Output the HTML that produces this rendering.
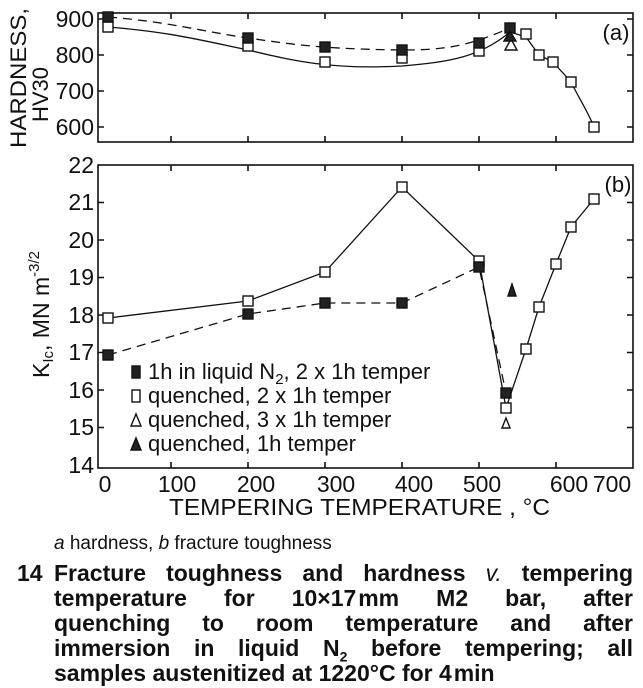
<!DOCTYPE html>
<html><head><meta charset="utf-8"><style>
html,body{margin:0;padding:0;background:#fff;}
svg{display:block;position:absolute;left:0;top:0;}
text{font-family:"Liberation Sans",sans-serif;fill:#111;}
.cap{position:absolute;left:54px;width:579px;font-family:"Liberation Sans",sans-serif;font-weight:bold;font-size:23px;line-height:25px;color:#111;text-align:justify;text-align-last:justify;white-space:nowrap;}
.cap span.j{display:block;text-align:justify;text-align-last:justify;white-space:normal;}
</style></head><body>
<svg width="643" height="688" viewBox="0 0 643 688" xmlns="http://www.w3.org/2000/svg">
<g stroke="#111" fill="none" stroke-width="1.6">
<rect x="98" y="13" width="535" height="129"/>
<path d="M171 13v6M248 13v6M325 13v6M402 13v6M479 13v6M556 13v6M171 142v-6M248 142v-6M325 142v-6M402 142v-6M479 142v-6M556 142v-6"/>
<path d="M98 19h6M98 55h6M98 91h6M98 127h6M633 19h-6M633 55h-6M633 91h-6M633 127h-6"/>
<rect x="98" y="165" width="535" height="303"/>
<path d="M171 165v6M248 165v6M325 165v6M402 165v6M479 165v6M556 165v6M171 468v-6M248 468v-6M325 468v-6M402 468v-6M479 468v-6M556 468v-6"/>
<path d="M98 202.5h6M98 240h6M98 277.5h6M98 315h6M98 352.5h6M98 390h6M98 427.5h6M633 202.5h-6M633 240h-6M633 277.5h-6M633 315h-6M633 352.5h-6M633 390h-6M633 427.5h-6"/>
</g>
<!-- top curves -->
<g fill="none" stroke="#111" stroke-width="1.3">
<path d="M108 17 C170 22 200 31 248 38 C290 44 320 49 402 50 C450 50 470 45 510 28" stroke-dasharray="9,6"/>
<path d="M108 27 C170 32 200 40 248 50 C290 60 330 70 402 66 C450 62 480 57 510 32 L526 37 L539 55 L553 62 C560 70 566 76 571 82 C580 100 588 112 594 127"/>
</g>
<g stroke="#111" stroke-width="1.4">
<g fill="#fff">
<rect x="103" y="22" width="10" height="10"/><rect x="243" y="41" width="10" height="10"/><rect x="320" y="57" width="10" height="10"/><rect x="397" y="53" width="10" height="10"/><rect x="474" y="46" width="10" height="10"/><rect x="521" y="29" width="10" height="10"/><rect x="534" y="50" width="10" height="10"/><rect x="548" y="57" width="10" height="10"/><rect x="566" y="77" width="10" height="10"/><rect x="589" y="122" width="10" height="10"/>
<path d="M505 50 L511 39 L517 50 Z"/>
</g>
<g fill="#222">
<rect x="103" y="12" width="10" height="10"/><rect x="243" y="33" width="10" height="10"/><rect x="320" y="42" width="10" height="10"/><rect x="397" y="45" width="10" height="10"/><rect x="474" y="38" width="10" height="10"/><rect x="505" y="23" width="10" height="10"/><path d="M504 41 L510 31 L516 41 Z"/>
</g>
</g>
<!-- bottom lines -->
<g fill="none" stroke="#111" stroke-width="1.3">
<polyline points="108,318 248,301 325,272 402,187 479,261 506,408 526,349 539,307 556,264 571,227 594,199"/>
<polyline points="108,355 248,314 325,303 402,303 479,267 506,393" stroke-dasharray="9,6"/>
</g>
<g stroke="#111" stroke-width="1.4">
<g fill="#fff">
<rect x="103" y="313" width="10" height="10"/><rect x="243" y="296" width="10" height="10"/><rect x="320" y="267" width="10" height="10"/><rect x="397" y="182" width="10" height="10"/><rect x="474" y="256" width="10" height="10"/><rect x="501" y="403" width="10" height="10"/><rect x="521" y="344" width="10" height="10"/><rect x="534" y="302" width="10" height="10"/><rect x="551" y="259" width="10" height="10"/><rect x="566" y="222" width="10" height="10"/><rect x="589" y="194" width="10" height="10"/>
<path d="M502 428 L506 418 L510 428 Z"/>
</g>
<g fill="#222">
<rect x="103" y="350" width="10" height="10"/><rect x="243" y="309" width="10" height="10"/><rect x="320" y="298" width="10" height="10"/><rect x="397" y="298" width="10" height="10"/><rect x="474" y="262" width="10" height="10"/><rect x="501" y="388" width="10" height="10"/>
<path d="M508 296 L512 284 L516 296 Z"/>
</g>
<rect x="132" y="366" width="8" height="12" fill="#222"/>
<rect x="132" y="390" width="8" height="12" fill="#fff"/>
<path d="M131 426 L136 414 L141 426 Z" fill="#fff"/>
<path d="M131 450 L136 438 L141 450 Z" fill="#222"/>
</g>
<g font-size="22">
<text x="148" y="379">1h in liquid N<tspan font-size="15" dy="5">2</tspan><tspan dy="-5">, 2 x 1h temper</tspan></text>
<text x="148" y="403">quenched, 2 x 1h temper</text>
<text x="148" y="427">quenched, 3 x 1h temper</text>
<text x="148" y="451">quenched,  1h temper</text>
</g>
<g font-size="23" text-anchor="end">
<text x="94" y="27">900</text><text x="94" y="63">800</text><text x="94" y="99">700</text><text x="94" y="135">600</text>
<text x="94" y="173">22</text><text x="94" y="210">21</text><text x="94" y="248">20</text><text x="94" y="285">19</text><text x="94" y="323">18</text><text x="94" y="360">17</text><text x="94" y="398">16</text><text x="94" y="435">15</text><text x="94" y="473">14</text>
</g>
<g font-size="23" text-anchor="middle">
<text x="105" y="492">0</text><text x="177" y="492">100</text><text x="256" y="492">200</text><text x="336" y="492">300</text><text x="414" y="492">400</text><text x="482" y="492">500</text><text x="569" y="492">600</text><text x="612" y="492">700</text>
</g>
<text x="169" y="515" font-size="23" textLength="381" lengthAdjust="spacingAndGlyphs">TEMPERING TEMPERATURE , °C</text>
<text x="616" y="40" font-size="22" text-anchor="middle">(a)</text>
<text x="618" y="192" font-size="22" text-anchor="middle">(b)</text>
<text transform="translate(26,148) rotate(-90)" font-size="22" textLength="140" lengthAdjust="spacingAndGlyphs">HARDNESS,</text>
<text transform="translate(48,122) rotate(-90)" font-size="22">HV30</text>
<text transform="translate(49,378) rotate(-90)" font-size="23">K<tspan font-size="15" dy="4">Ic</tspan><tspan dy="-4">, MN m</tspan><tspan font-size="15" dy="-10">-3/2</tspan></text>
<text x="54" y="549" font-size="19"><tspan font-style="italic">a</tspan> hardness, <tspan font-style="italic">b</tspan> fracture toughness</text>
<text x="17" y="581" font-size="23" font-weight="bold">14</text>
</svg>
<div class="cap" style="top:561px">
<span class="j">Fracture toughness and hardness <i style="font-weight:normal">v.</i> tempering</span>
<span class="j">temperature for 10×17&#8202;mm M2 bar, after</span>
<span class="j">quenching to room temperature and after</span>
<span class="j">immersion in liquid N<sub style="font-size:14px;line-height:0">2</sub> before tempering; all</span>
<span style="display:block;text-align:left;text-align-last:left">samples austenitized at 1220°C for 4&#8202;min</span>
</div>
</body></html>
